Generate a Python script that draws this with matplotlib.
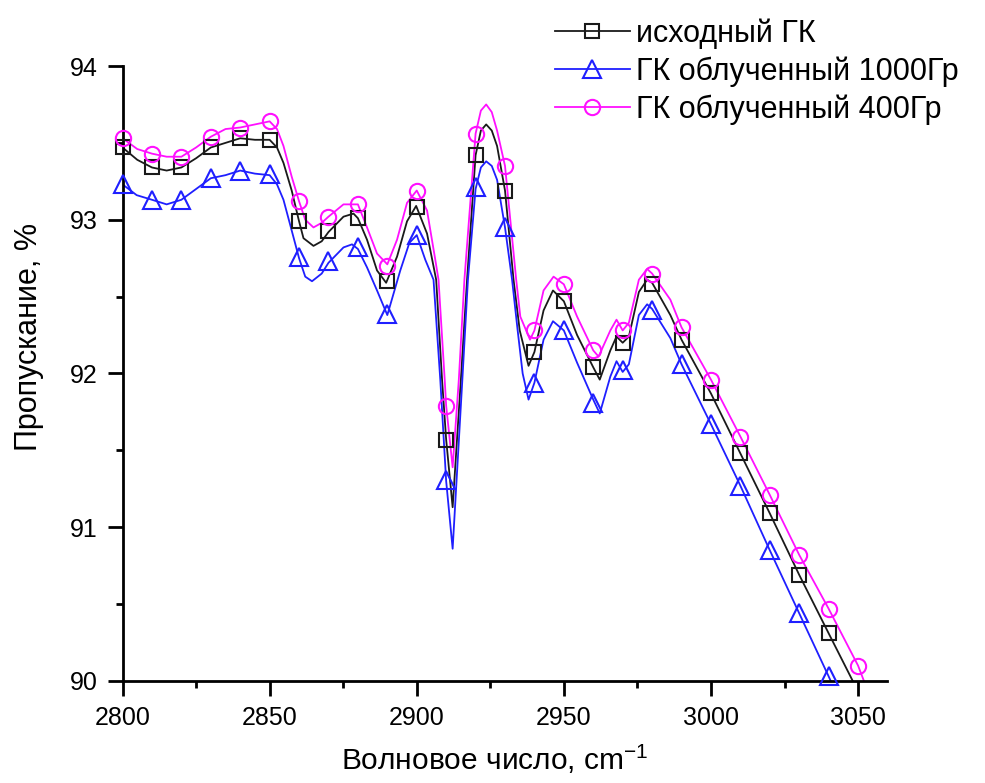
import numpy as np
import matplotlib
matplotlib.use("Agg")
import matplotlib.pyplot as plt
from matplotlib.lines import Line2D

plt.rcParams['font.family'] = ['Liberation Sans', 'DejaVu Sans']
plt.rcParams['mathtext.default'] = 'regular'

#------------------------------------------------------------------------------------
# Data
labels = ("исходный ГК", "ГК облученный 1000Гр", "ГК облученный 400Гр")

# marker positions (every 10 cm-1)
mark_x_src = [2800, 2810, 2820, 2830, 2840, 2850, 2860, 2870, 2880, 2890, 2900, 2910, 2920,
              2930, 2940, 2950, 2960, 2970, 2980, 2990, 3000, 3010, 3020, 3030, 3040]
mark_y_src = [93.47, 93.34, 93.34, 93.47, 93.53, 93.52, 92.99, 92.93, 93.01, 92.60, 93.08, 91.57, 93.42,
              93.19, 92.14, 92.47, 92.04, 92.20, 92.58, 92.22, 91.87, 91.48, 91.09, 90.69, 90.31]

mark_x_1000 = mark_x_src
mark_y_1000 = [93.23, 93.13, 93.13, 93.27, 93.32, 93.30, 92.76, 92.73, 92.82, 92.39, 92.90, 91.31, 93.21,
               92.95, 91.94, 92.28, 91.81, 92.02, 92.41, 92.06, 91.67, 91.27, 90.85, 90.44, 90.03]

mark_x_400 = mark_x_src + [3050]
mark_y_400 = [93.53, 93.43, 93.41, 93.54, 93.60, 93.64, 93.12, 93.02, 93.10, 92.70, 93.19, 91.79, 93.56,
              93.35, 92.28, 92.58, 92.15, 92.28, 92.65, 92.30, 91.96, 91.59, 91.21, 90.82, 90.47, 90.10]

# the full curves (read more densely around the bands)
line_x_src = [2800, 2805, 2810, 2815, 2820, 2825, 2830, 2835, 2840, 2845, 2850, 2852.5, 2854.7, 2857.5, 2860,
              2861.5, 2864.9, 2867.7, 2870, 2875.1, 2878.5, 2880, 2883.1, 2886.5, 2889.6, 2893.3, 2896.7,
              2899.8, 2903.5, 2906.6, 2908.6, 2910, 2912.2, 2915.0, 2917.1, 2920, 2921.8, 2923.6, 2925.5,
              2927.3, 2930, 2932.9, 2935.0, 2938.0, 2940, 2943.1, 2946.3, 2950, 2954.5, 2960, 2962.2,
              2965.8, 2967.9, 2970, 2972.1, 2975.5, 2978.3, 2980, 2986.2, 2990, 3000, 3010, 3020, 3030,
              3040, 3048.2]
line_y_src = [93.47, 93.39, 93.34, 93.32, 93.34, 93.40, 93.47, 93.50, 93.53, 93.52, 93.52, 93.47, 93.37, 93.19,
              92.99, 92.88, 92.83, 92.86, 92.92, 93.02, 93.04, 93.01, 92.87, 92.67, 92.59, 92.76, 92.99,
              93.09, 92.91, 92.61, 91.96, 91.57, 91.13, 91.96, 92.61, 93.42, 93.58, 93.62, 93.58,
              93.48, 93.19, 92.61, 92.28, 92.05, 92.14, 92.41, 92.54, 92.47, 92.25, 92.04, 91.96,
              92.15, 92.24, 92.20, 92.24, 92.53, 92.61, 92.59, 92.38, 92.22, 91.87, 91.48, 91.09, 90.69,
              90.31, 90.0]

line_x_1000 = [2800, 2804.8, 2810, 2815, 2820, 2825, 2830, 2835, 2840, 2845, 2850, 2852.5, 2854.7, 2857.5,
               2860, 2862.1, 2864.4, 2867.7, 2870, 2875.1, 2878, 2880, 2883.1, 2886.5, 2890, 2894.4, 2897.5,
               2900, 2902.9, 2905.7, 2908.0, 2910, 2912.2, 2915.5, 2917.4, 2920, 2921.8, 2923.6, 2925.5,
               2927.3, 2930, 2932.4, 2934.3, 2936.0, 2938.0, 2940, 2943.1, 2946.3, 2950, 2954.5, 2960,
               2962.2, 2965.8, 2967.9, 2970, 2972.1, 2975.5, 2978.3, 2980, 2986.2, 2990, 3000, 3010, 3020,
               3030, 3040, 3040.7]
line_y_1000 = [93.23, 93.16, 93.13, 93.10, 93.13, 93.20, 93.27, 93.29, 93.32, 93.30, 93.29, 93.23, 93.13,
               92.93, 92.75, 92.63, 92.60, 92.65, 92.72, 92.82, 92.84, 92.81, 92.69, 92.54, 92.38, 92.67, 92.85,
               92.90, 92.74, 92.61, 91.96, 91.30, 90.86, 91.96, 92.61, 93.20, 93.34, 93.38, 93.35,
               93.26, 92.95, 92.61, 92.28, 92.00, 91.83, 91.94, 92.22, 92.34, 92.28, 92.07, 91.83,
               91.74, 91.98, 92.08, 92.01, 92.06, 92.38, 92.45, 92.42, 92.23, 92.06, 91.67, 91.27, 90.85,
               90.44, 90.03, 90.0]

line_x_400 = [2800, 2805, 2810, 2815, 2820, 2825, 2830, 2835, 2840, 2845, 2850, 2852.5, 2854.7, 2857.5, 2860,
              2862.1, 2864.9, 2867.7, 2870, 2875.1, 2880, 2883.1, 2886.5, 2890, 2893.3, 2896.7, 2900,
              2903.5, 2906.3, 2907.4, 2909.5, 2910, 2912.2, 2914.3, 2916.2, 2920, 2921.8, 2923.6, 2925.5,
              2927.3, 2930, 2933.8, 2935.2, 2938.5, 2940, 2943.1, 2946.5, 2950, 2954.5, 2960, 2961.8,
              2965.8, 2967.9, 2970, 2972.1, 2975.5, 2978.3, 2980, 2986.2, 2990, 3000, 3010, 3020, 3030,
              3040, 3050, 3052]
line_y_400 = [93.53, 93.46, 93.43, 93.41, 93.41, 93.47, 93.54, 93.59, 93.60, 93.62, 93.64, 93.59, 93.48, 93.28,
              93.12, 93.00, 92.95, 92.98, 93.02, 93.10, 93.10, 92.95, 92.78, 92.71, 92.87, 93.11, 93.19,
              93.06, 92.74, 92.61, 91.96, 91.79, 91.39, 91.96, 92.61, 93.56, 93.71, 93.75, 93.70,
              93.58, 93.35, 92.61, 92.37, 92.22, 92.28, 92.54, 92.63, 92.58, 92.37, 92.15, 92.11,
              92.28, 92.35, 92.28, 92.33, 92.61, 92.68, 92.65, 92.48, 92.30, 91.96, 91.59, 91.21, 90.82,
              90.47, 90.10, 90.0]

#------------------------------------------------------------------------------------
# Start plotting
colors = ('#1a1a1a', '#1f1fff', '#ff10ff')
markers = ('s', '^', 'o')
msizes = (10, 13, 11)

series = ((line_x_src, line_y_src, mark_x_src, mark_y_src),
          (line_x_1000, line_y_1000, mark_x_1000, mark_y_1000),
          (line_x_400, line_y_400, mark_x_400, mark_y_400))

fig = plt.figure(figsize=(9.85, 7.83), dpi=100)
ax = fig.add_axes([0.1244, 0.1303, 0.7766, 0.7854])

handles = []
for i, (lx, ly, mx, my) in enumerate(series):
    ax.plot(lx, ly, color=colors[i], lw=1.3, zorder=2)
    ax.plot(mx, my, ls='none', marker=markers[i], ms=msizes[i], mfc='none',
            mec=colors[i], mew=1.5, clip_on=False, zorder=3)
    handles.append(Line2D([], [], color=colors[i], lw=1.3, marker=markers[i], ms=msizes[i],
                          mfc='none', mec=colors[i], mew=1.5))

ax.set_xlim(2800, 3060)
ax.set_ylim(90, 94)
ax.set_xticks([2800, 2850, 2900, 2950, 3000, 3050])
ax.set_xticks(np.arange(2825, 3060, 50), minor=True)
ax.set_yticks([90, 91, 92, 93, 94])
ax.set_yticks([90.5, 91.5, 92.5, 93.5], minor=True)

for s in ('top', 'right'):
    ax.spines[s].set_visible(False)
for s in ('left', 'bottom'):
    ax.spines[s].set_linewidth(2)
ax.tick_params(which='major', direction='out', length=11, width=2, labelsize=18, pad=7)
ax.tick_params(which='minor', direction='out', length=5, width=2)

ax.set_xlabel('Волновое число, cm$^{-1}$', fontsize=21.5)
ax.set_ylabel('Пропускание, %', fontsize=22)
ax.xaxis.set_label_coords(0.487, -0.10)
ax.yaxis.set_label_coords(-0.103, 0.559)

fig.legend(handles, labels, loc='upper left', bbox_to_anchor=(555 / 985, 0.977), frameon=False,
           fontsize=22, handlelength=2.45, handletextpad=0.2, labelspacing=0.25,
           borderpad=0, borderaxespad=0)

plt.savefig('out.png', format='png', dpi=100)
plt.close()
